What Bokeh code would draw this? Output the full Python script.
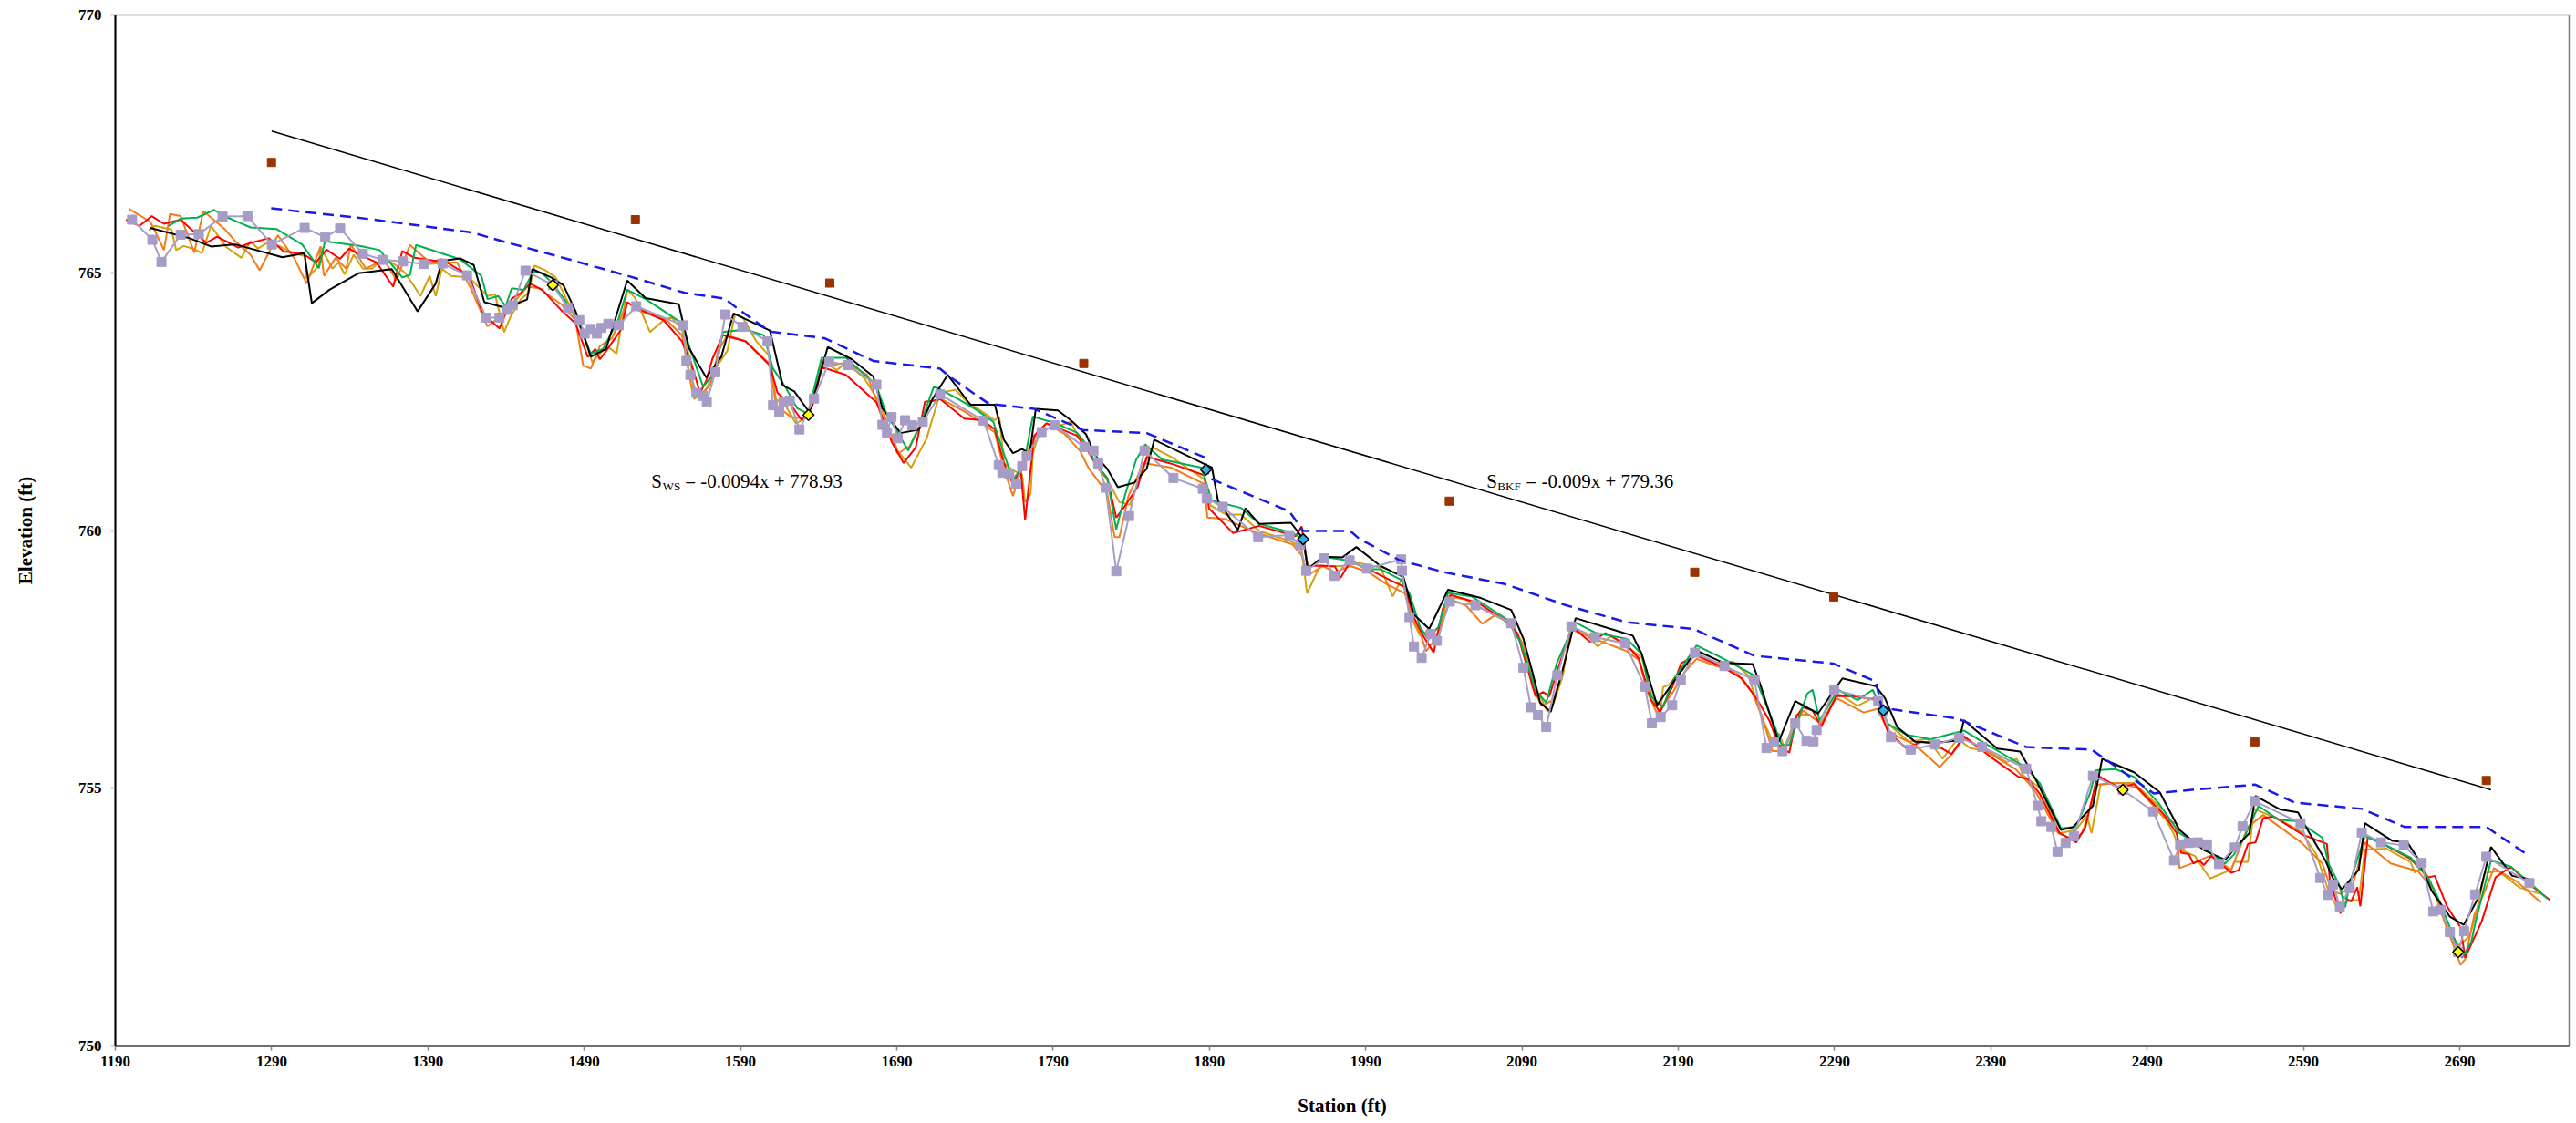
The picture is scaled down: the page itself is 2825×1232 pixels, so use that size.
from bokeh.plotting import figure
from bokeh.models import Range1d, FixedTicker, Label
from bokeh.embed import file_html
from bokeh.resources import INLINE

# ---------------- data (station ft, elevation ft) ----------------
black_pts = [(1212.3, 765.87), (1237.6, 765.67), (1251.2, 765.51), (1266.8, 765.55), (1296.9, 765.30), (1310.9, 765.38),
             (1315.7, 764.41), (1327.0, 764.67), (1345.5, 764.99), (1366.9, 765.07), (1383.4, 764.25), (1395.0, 764.79),
             (1398.9, 765.23), (1410.6, 765.28), (1419.3, 765.15), (1426.1, 764.43), (1439.7, 764.32), (1453.4, 764.48),
             (1456.8, 765.07), (1468.9, 764.91), (1476.7, 764.76), (1484.4, 764.26), (1494.2, 763.37), (1503.9, 763.52),
             (1517.5, 764.85), (1529.2, 764.51), (1550.5, 764.39), (1556.8, 763.55), (1568.0, 762.97), (1577.7, 763.37),
             (1585.5, 764.21), (1608.8, 763.88), (1617.0, 762.82), (1624.4, 762.70), (1634.1, 762.29), (1645.8, 763.56),
             (1661.3, 763.32), (1674.9, 762.99), (1680.8, 762.37), (1692.4, 761.89), (1704.1, 761.96), (1712.8, 762.55),
             (1722.5, 763.02), (1737.1, 762.44), (1752.7, 762.44), (1758.5, 761.76), (1764.3, 761.50), (1770.2, 761.58),
             (1775.0, 761.49), (1778.9, 762.36), (1793.1, 762.33), (1801.3, 762.14), (1811.0, 761.87), (1816.8, 761.46),
             (1824.6, 761.20), (1831.4, 760.84), (1842.1, 760.93), (1849.9, 761.20), (1854.7, 761.76), (1891.6, 761.22),
             (1895.5, 760.58), (1908.2, 760.01), (1913.0, 760.43), (1921.8, 760.13), (1942.2, 760.15), (1950.0, 759.84),
             (1952.9, 759.25), (1962.6, 759.49), (1975.2, 759.48), (1984.0, 759.68), (1999.5, 759.31), (2014.1, 759.10),
             (2020.9, 758.37), (2030.6, 758.09), (2042.7, 758.85), (2063.7, 758.69), (2083.1, 758.46), (2090.9, 757.90),
             (2096.7, 757.25), (2101.6, 756.66), (2108.4, 756.48), (2116.2, 757.31), (2124.3, 758.30), (2160.9, 757.96),
             (2166.7, 757.60), (2176.4, 756.61), (2186.1, 757.03), (2201.7, 757.67), (2219.2, 757.43), (2237.6, 757.41),
             (2242.5, 757.01), (2254.2, 755.90), (2264.8, 756.69), (2279.4, 756.45), (2295.0, 757.13), (2316.4, 756.98),
             (2322.2, 756.75), (2330.0, 756.19), (2341.6, 755.90), (2354.3, 755.88), (2369.8, 755.93), (2372.7, 756.32),
             (2394.1, 755.77), (2408.7, 755.71), (2419.4, 755.13), (2434.9, 754.19), (2442.7, 754.25), (2455.3, 754.66),
             (2461.2, 755.57), (2481.6, 755.31), (2498.1, 754.92), (2510.7, 754.19), (2516.6, 754.04), (2526.3, 753.80),
             (2539.9, 753.61), (2547.7, 753.89), (2555.4, 754.13), (2559.3, 754.85), (2574.9, 754.59), (2586.5, 754.53),
             (2590.4, 754.31), (2604.0, 753.60), (2608.9, 753.25), (2614.7, 753.04), (2625.4, 753.42), (2629.3, 754.32),
             (2646.8, 753.98), (2656.5, 753.95), (2663.3, 753.63), (2672.0, 753.01), (2683.7, 752.51), (2692.5, 752.35),
             (2702.2, 752.89), (2710.0, 753.86), (2723.6, 753.30), (2734.2, 753.24)]

green_pts = [(1224.0, 765.91), (1231.8, 766.05), (1242.4, 766.07), (1253.1, 766.22), (1259.0, 766.11), (1276.5, 765.88),
             (1293.0, 765.85), (1309.5, 765.55), (1320.2, 765.09), (1324.1, 765.61), (1346.4, 765.52), (1359.1, 765.44),
             (1373.6, 764.91), (1378.5, 764.96), (1382.4, 765.54), (1410.6, 765.26), (1424.2, 764.94), (1428.1, 764.49),
             (1434.9, 764.55), (1439.7, 764.35), (1443.6, 764.70), (1451.4, 764.67), (1457.2, 765.02), (1463.1, 764.99),
             (1469.9, 764.79), (1478.6, 764.43), (1486.4, 764.02), (1494.2, 763.43), (1501.9, 763.52), (1511.7, 764.08),
             (1517.5, 764.67), (1529.2, 764.49), (1538.9, 764.30), (1552.5, 764.02), (1556.8, 763.61), (1566.1, 762.79),
             (1573.9, 763.08), (1578.7, 763.85), (1593.3, 763.90), (1604.9, 763.79), (1610.8, 763.14), (1618.6, 762.79),
             (1626.3, 762.37), (1633.1, 762.26), (1641.9, 763.35), (1657.4, 763.35), (1676.9, 762.82), (1682.7, 762.31),
             (1697.3, 761.55), (1706.0, 762.14), (1713.8, 762.80), (1729.4, 762.55), (1741.0, 762.34), (1751.7, 762.11),
             (1758.5, 761.49), (1764.3, 760.99), (1771.1, 761.26), (1777.0, 762.21), (1791.6, 762.08), (1805.2, 761.90),
             (1812.9, 761.61), (1816.8, 761.31), (1824.6, 761.02), (1830.4, 760.02), (1836.3, 760.72), (1843.1, 761.37),
             (1848.9, 761.67), (1859.6, 761.38), (1884.8, 761.22), (1891.6, 760.58), (1910.1, 760.44), (1921.8, 760.13),
             (1942.2, 759.96), (1950.0, 759.84), (1952.9, 759.25), (1962.6, 759.49), (1976.2, 759.43), (1982.0, 759.40),
             (1989.8, 759.25), (1999.5, 759.25), (2012.2, 759.05), (2018.0, 758.78), (2024.8, 758.13), (2029.7, 757.90),
             (2036.5, 758.13), (2042.7, 758.79), (2057.8, 758.72), (2080.2, 758.28), (2088.9, 757.84), (2098.7, 756.90),
             (2105.5, 756.66), (2112.3, 757.43), (2123.9, 758.22), (2137.5, 758.01), (2157.0, 757.90), (2166.7, 757.60),
             (2172.5, 756.78), (2180.3, 756.57), (2186.1, 757.07), (2201.7, 757.77), (2217.2, 757.54), (2238.6, 757.19),
             (2250.3, 756.31), (2256.1, 755.84), (2261.0, 755.84), (2272.6, 756.84), (2275.9, 756.91), (2280.4, 756.31),
             (2292.1, 756.91), (2304.7, 756.71), (2314.4, 756.91), (2324.1, 756.25), (2335.8, 756.04), (2351.3, 755.95),
             (2372.7, 756.12), (2386.3, 755.87), (2411.6, 755.42), (2421.3, 755.10), (2434.9, 754.22), (2444.6, 754.25),
             (2453.4, 754.90), (2457.3, 755.35), (2469.9, 755.37), (2481.6, 755.22), (2497.1, 754.72), (2510.7, 754.13),
             (2526.3, 753.83), (2539.9, 753.54), (2545.7, 753.72), (2551.5, 754.01), (2561.3, 754.66), (2573.9, 754.39),
             (2586.5, 754.36), (2602.1, 754.04), (2606.0, 753.54), (2612.8, 753.13), (2616.7, 752.69), (2619.6, 753.16),
             (2629.3, 754.07), (2642.9, 753.89), (2658.4, 753.66), (2670.1, 753.25), (2675.9, 752.89), (2691.5, 751.71),
             (2697.3, 752.01), (2700.2, 752.42), (2710.0, 753.60), (2722.6, 753.48), (2736.2, 753.13), (2745.9, 752.86)]

red_pts = [(1196.8, 766.03), (1205.5, 765.91), (1213.3, 766.10), (1221.1, 765.95), (1231.8, 766.03), (1240.5, 765.79),
           (1248.3, 765.58), (1255.1, 765.70), (1268.7, 765.49), (1276.5, 765.58), (1288.1, 765.67), (1297.8, 765.41),
           (1309.5, 765.38), (1318.3, 765.20), (1325.1, 765.45), (1333.8, 765.27), (1339.6, 765.47), (1345.5, 765.36),
           (1357.1, 765.20), (1367.8, 764.73), (1373.6, 765.42), (1381.4, 765.29), (1395.0, 765.23), (1398.9, 765.26),
           (1416.4, 764.94), (1425.2, 764.20), (1435.8, 763.92), (1443.6, 764.50), (1449.5, 764.61), (1455.3, 764.79),
           (1463.1, 764.67), (1475.7, 764.26), (1484.4, 764.02), (1492.2, 763.37), (1497.1, 763.52), (1500.0, 763.32),
           (1504.9, 763.52), (1513.6, 763.90), (1517.5, 764.43), (1523.3, 764.32), (1540.8, 764.08), (1552.5, 763.67),
           (1558.3, 763.26), (1564.1, 762.67), (1568.0, 762.90), (1571.9, 763.32), (1578.7, 763.79), (1593.3, 763.67),
           (1608.8, 763.20), (1613.7, 762.67), (1622.4, 762.43), (1629.2, 762.14), (1636.1, 762.43), (1641.9, 763.17),
           (1657.4, 763.02), (1676.9, 762.49), (1686.6, 761.73), (1694.4, 761.31), (1702.1, 761.61), (1708.0, 762.50),
           (1713.8, 762.52), (1717.7, 762.55), (1733.2, 762.17), (1744.9, 762.14), (1752.7, 761.96), (1758.5, 761.31),
           (1764.3, 760.90), (1769.2, 761.20), (1772.1, 760.20), (1775.0, 761.02), (1777.9, 761.84), (1785.7, 762.08),
           (1805.2, 761.84), (1811.0, 761.61), (1816.8, 761.31), (1824.6, 761.02), (1830.4, 760.25), (1836.3, 760.49),
           (1844.0, 760.84), (1849.9, 761.43), (1867.4, 761.28), (1886.8, 761.07), (1889.7, 760.43), (1905.2, 759.95),
           (1921.8, 760.09), (1945.1, 759.89), (1949.0, 760.08), (1952.9, 759.31), (1961.6, 759.32), (1970.4, 759.30),
           (1973.9, 759.08), (1980.1, 759.40), (1991.8, 759.25), (1999.5, 759.13), (2015.1, 758.90), (2020.9, 758.31),
           (2026.7, 757.96), (2033.5, 757.63), (2039.4, 758.49), (2044.2, 758.75), (2061.7, 758.60), (2079.2, 758.25),
           (2087.0, 758.01), (2098.7, 756.78), (2103.5, 756.87), (2107.4, 756.78), (2114.2, 757.43), (2122.0, 758.13),
           (2133.6, 757.84), (2143.4, 758.01), (2157.0, 757.78), (2164.7, 757.52), (2172.5, 756.72), (2178.4, 756.48),
           (2186.1, 756.96), (2191.9, 757.43), (2201.7, 757.57), (2217.2, 757.37), (2230.8, 757.13), (2240.5, 756.72),
           (2248.3, 756.31), (2254.2, 755.84), (2261.0, 755.69), (2265.8, 756.40), (2269.7, 756.57), (2275.9, 756.51),
           (2281.4, 756.19), (2291.1, 756.79), (2302.7, 756.78), (2316.4, 756.72), (2324.1, 756.10), (2335.8, 755.78),
           (2345.5, 755.90), (2353.3, 755.87), (2364.9, 755.66), (2372.7, 756.01), (2390.2, 755.60), (2407.7, 755.22),
           (2413.5, 755.18), (2421.3, 754.89), (2433.9, 754.13), (2444.6, 753.95), (2450.5, 754.25), (2458.2, 755.25),
           (2471.8, 755.01), (2481.6, 755.08), (2501.0, 754.48), (2508.8, 754.13), (2511.7, 753.75), (2516.6, 753.72),
           (2519.5, 753.54), (2523.4, 753.60), (2526.3, 753.51), (2531.1, 753.69), (2543.8, 753.36), (2548.6, 753.41),
           (2554.5, 753.92), (2559.3, 753.95), (2564.2, 754.42), (2571.0, 754.45), (2589.4, 754.10), (2605.0, 753.92),
           (2606.9, 753.19), (2610.8, 752.83), (2613.7, 752.57), (2615.7, 752.89), (2620.5, 752.80), (2624.4, 753.08),
           (2626.4, 752.71), (2631.2, 754.07), (2642.9, 753.89), (2658.4, 753.63), (2670.1, 753.27), (2674.0, 753.30),
           (2681.8, 752.71), (2690.5, 752.30), (2693.4, 751.71), (2704.1, 752.42), (2712.9, 753.27), (2722.6, 753.48),
           (2736.2, 753.10), (2747.8, 752.83)]

orange_pts = [(1198.7, 766.24), (1212.3, 765.99), (1216.2, 765.76), (1221.1, 765.44), (1225.0, 766.14), (1231.8, 766.10),
              (1240.5, 765.39), (1246.3, 766.20), (1259.9, 765.85), (1266.8, 765.61), (1276.5, 765.35), (1282.3, 765.05),
              (1294.0, 765.73), (1304.7, 765.27), (1312.4, 764.79), (1321.2, 765.50), (1323.5, 764.94), (1330.9, 765.29),
              (1337.7, 765.08), (1340.6, 765.55), (1350.3, 765.08), (1362.0, 765.26), (1369.8, 764.85), (1378.5, 765.54),
              (1391.1, 765.20), (1408.6, 765.20), (1417.4, 764.70), (1428.1, 763.96), (1435.8, 764.14), (1444.6, 764.41),
              (1453.4, 764.73), (1461.1, 764.70), (1475.7, 764.38), (1484.4, 764.08), (1489.3, 763.20), (1494.2, 763.14),
              (1500.0, 763.58), (1507.8, 763.73), (1517.5, 764.43), (1525.3, 764.26), (1542.8, 764.08), (1552.5, 763.79),
              (1559.3, 762.67), (1564.1, 762.62), (1570.9, 762.84), (1575.8, 763.49), (1581.6, 763.79), (1593.3, 763.67),
              (1608.8, 763.23), (1612.7, 762.43), (1622.4, 762.20), (1630.2, 762.17), (1638.0, 762.55), (1641.9, 763.26),
              (1647.7, 763.20), (1657.4, 763.26), (1671.0, 763.02), (1678.8, 762.37), (1690.5, 761.49), (1698.3, 761.64),
              (1706.0, 762.08), (1711.9, 762.50), (1717.7, 762.56), (1733.2, 762.31), (1744.9, 762.08), (1752.7, 761.90),
              (1758.5, 761.20), (1764.3, 760.67), (1769.2, 761.14), (1774.1, 761.55), (1777.9, 761.79), (1785.7, 762.08),
              (1797.4, 761.87), (1807.1, 761.55), (1812.9, 761.20), (1818.8, 760.96), (1824.6, 760.72), (1829.4, 759.87),
              (1832.4, 759.87), (1838.2, 760.67), (1847.9, 761.31), (1865.4, 761.22), (1886.8, 760.90), (1888.7, 760.25),
              (1900.4, 760.22), (1919.8, 759.96), (1943.2, 759.73), (1949.0, 759.52), (1952.9, 759.13), (1962.6, 759.31),
              (1970.4, 759.19), (1980.1, 759.31), (1991.8, 759.19), (2003.4, 758.96), (2015.1, 758.78), (2019.0, 758.37),
              (2024.8, 758.02), (2028.7, 757.66), (2034.5, 757.90), (2044.2, 758.66), (2054.0, 758.55), (2064.6, 758.19),
              (2073.4, 758.37), (2083.1, 758.19), (2090.9, 757.78), (2096.7, 756.96), (2102.5, 756.60), (2110.3, 756.72),
              (2116.2, 757.31), (2122.0, 758.07), (2141.4, 757.84), (2157.0, 757.66), (2164.7, 757.49), (2170.6, 756.84),
              (2176.4, 756.45), (2186.1, 756.84), (2193.9, 757.25), (2201.7, 757.51), (2211.4, 757.40), (2226.9, 757.25),
              (2237.5, 756.85), (2244.4, 756.31), (2250.3, 755.72), (2257.1, 755.72), (2264.8, 756.19), (2269.7, 756.51),
              (2281.4, 756.25), (2291.1, 756.75), (2308.6, 756.47), (2317.3, 756.54), (2324.1, 756.13), (2330.0, 756.01),
              (2341.6, 755.84), (2357.2, 755.41), (2364.9, 755.66), (2372.7, 755.97), (2390.2, 755.66), (2405.8, 755.37),
              (2413.5, 755.12), (2419.4, 754.89), (2433.0, 754.13), (2442.7, 754.01), (2448.5, 754.13), (2456.3, 754.90),
              (2458.2, 755.07), (2473.8, 755.10), (2483.5, 755.01), (2501.0, 754.42), (2508.8, 754.31), (2510.7, 753.45),
              (2518.5, 753.54), (2530.2, 753.69), (2543.8, 753.42), (2554.5, 754.25), (2564.2, 754.48), (2588.5, 753.95),
              (2602.1, 753.54), (2607.9, 753.01), (2613.7, 752.95), (2621.5, 753.13), (2629.3, 753.95), (2645.8, 753.54),
              (2663.3, 753.39), (2674.0, 753.01), (2681.8, 752.30), (2690.5, 751.57), (2693.4, 751.68), (2699.3, 752.54),
              (2706.1, 753.01), (2711.9, 753.45), (2726.5, 753.19), (2742.0, 752.78)]

gold_pts = [(1211.4, 765.82), (1215.2, 765.91), (1225.9, 765.84), (1228.9, 765.44), (1233.7, 765.52), (1239.5, 765.47),
            (1245.4, 765.38), (1251.2, 765.91), (1260.9, 765.50), (1270.6, 765.29), (1276.5, 765.61), (1281.3, 765.47),
            (1287.2, 765.58), (1294.9, 765.52), (1303.7, 765.38), (1311.4, 765.32), (1312.4, 764.88), (1320.2, 765.14),
            (1321.2, 765.51), (1328.9, 765.08), (1332.8, 765.20), (1336.7, 764.97), (1342.5, 765.35), (1348.4, 765.08),
            (1354.2, 765.08), (1362.0, 765.29), (1369.8, 765.14), (1375.6, 764.99), (1385.3, 764.55), (1391.1, 764.94),
            (1395.0, 764.55), (1398.9, 765.08), (1404.7, 764.94), (1416.4, 764.91), (1428.1, 764.55), (1432.9, 764.58),
            (1438.8, 763.85), (1442.7, 764.14), (1449.5, 764.49), (1454.3, 764.61), (1458.2, 765.14), (1465.0, 765.05),
            (1471.8, 764.91), (1479.6, 764.43), (1486.4, 764.08), (1492.2, 763.58), (1495.1, 763.26), (1501.9, 763.49),
            (1505.8, 763.55), (1510.7, 763.43), (1517.5, 764.67), (1522.4, 764.52), (1527.2, 764.20), (1532.1, 763.85),
            (1540.8, 764.08), (1545.7, 764.14), (1552.5, 763.90), (1558.3, 763.26), (1560.3, 762.55), (1564.1, 762.64),
            (1568.0, 762.73), (1573.9, 763.14), (1581.6, 763.49), (1586.5, 764.20), (1591.3, 764.14), (1600.1, 763.67),
            (1608.8, 763.37), (1612.7, 762.55), (1618.6, 762.43), (1625.4, 762.08), (1633.1, 762.20), (1641.9, 763.32),
            (1651.6, 763.11), (1657.4, 763.26), (1669.1, 762.96), (1678.8, 762.49), (1690.5, 761.55), (1699.2, 761.22),
            (1709.0, 761.78), (1717.7, 762.67), (1727.4, 762.73), (1735.2, 762.49), (1746.8, 762.26), (1752.7, 762.14),
            (1755.6, 762.21), (1758.5, 761.31), (1764.3, 761.17), (1770.2, 761.08), (1772.1, 760.55), (1775.6, 760.71),
            (1777.0, 761.49), (1781.8, 761.96), (1791.6, 762.01), (1801.3, 762.11), (1807.1, 761.76), (1812.9, 761.52),
            (1818.8, 761.20), (1824.6, 760.99), (1832.4, 760.55), (1839.2, 760.50), (1847.9, 761.25), (1853.7, 761.61),
            (1865.4, 761.43), (1886.8, 760.99), (1890.7, 760.49), (1900.4, 760.31), (1910.1, 760.31), (1921.8, 759.99),
            (1943.2, 759.78), (1949.0, 759.61), (1952.5, 758.78), (1960.6, 759.31), (1974.3, 759.31), (1985.9, 759.37),
            (1999.5, 759.28), (2007.3, 758.72), (2013.1, 759.07), (2019.0, 758.31), (2024.8, 757.96), (2030.6, 758.07),
            (2036.5, 757.90), (2042.3, 758.72), (2054.0, 758.66), (2071.4, 758.37), (2083.1, 758.19), (2090.9, 757.78),
            (2098.7, 756.96), (2106.4, 756.48), (2110.3, 756.66), (2116.2, 757.19), (2121.0, 758.13), (2131.7, 757.96),
            (2138.5, 757.75), (2147.2, 757.96), (2157.0, 757.75), (2166.7, 757.54), (2172.5, 756.84), (2178.4, 756.43),
            (2180.3, 756.96), (2184.2, 757.01), (2191.9, 757.31), (2201.7, 757.63), (2213.3, 757.43), (2225.0, 757.46),
            (2234.7, 757.19), (2244.4, 756.31), (2251.2, 755.84), (2254.2, 756.07), (2258.0, 755.78), (2265.8, 756.43),
            (2273.6, 756.43), (2281.4, 756.25), (2292.1, 756.84), (2304.7, 756.60), (2316.4, 756.78), (2324.1, 756.25),
            (2337.7, 755.90), (2349.4, 755.96), (2359.1, 755.57), (2368.8, 755.96), (2376.6, 755.78), (2388.3, 755.72),
            (2399.9, 755.51), (2406.7, 755.57), (2410.6, 755.25), (2421.3, 755.01), (2433.9, 754.13), (2444.6, 754.19),
            (2451.4, 754.48), (2454.4, 754.13), (2460.2, 755.07), (2466.0, 755.10), (2481.6, 755.10), (2497.1, 754.66),
            (2506.8, 754.13), (2510.7, 753.81), (2520.4, 753.69), (2530.2, 753.25), (2543.8, 753.42), (2545.7, 753.57),
            (2554.5, 753.57), (2558.3, 754.60), (2572.9, 754.42), (2588.5, 754.16), (2598.2, 753.72), (2606.0, 753.01),
            (2611.8, 752.66), (2619.6, 752.83), (2625.4, 752.83), (2629.3, 753.81), (2642.9, 753.83), (2658.4, 753.57),
            (2661.4, 753.36), (2666.2, 753.48), (2674.0, 752.95), (2681.8, 752.27), (2689.5, 751.95), (2696.3, 752.13),
            (2701.2, 752.66), (2706.1, 753.36), (2714.8, 753.39), (2728.4, 753.07), (2742.0, 752.95)]

lavender_pts = [(1200.7, 766.03), (1213.7, 765.64), (1219.5, 765.21), (1231.8, 765.74), (1243.4, 765.75), (1258.6, 766.09),
                (1274.5, 766.10), (1290.1, 765.55), (1311.1, 765.87), (1324.3, 765.69), (1333.8, 765.86), (1348.4, 765.37),
                (1361.0, 765.25), (1374.0, 765.22), (1387.3, 765.17), (1399.3, 765.18), (1415.0, 764.95), (1427.3, 764.13),
                (1435.8, 764.13), (1440.7, 764.28), (1444.2, 764.37), (1452.4, 765.04), (1469.9, 764.76), (1479.6, 764.32),
                (1486.8, 764.08), (1490.3, 763.82), (1494.2, 763.91), (1498.1, 763.82), (1501.0, 763.93), (1505.4, 764.01),
                (1512.0, 763.98), (1523.3, 764.35), (1553.1, 763.98), (1555.4, 763.29), (1557.9, 763.02), (1561.8, 762.67),
                (1566.1, 762.61), (1568.4, 762.50), (1573.9, 763.07), (1580.3, 764.19), (1591.3, 763.95), (1607.3, 763.67),
                (1610.8, 762.43), (1614.7, 762.30), (1617.6, 762.50), (1621.5, 762.52), (1627.7, 761.96), (1637.0, 762.56),
                (1646.7, 763.27), (1658.8, 763.21), (1676.9, 762.83), (1680.8, 762.05), (1683.7, 761.90), (1686.6, 762.20),
                (1690.5, 761.79), (1695.3, 762.14), (1699.8, 762.04), (1706.6, 762.11), (1717.7, 762.64), (1745.5, 762.13),
                (1755.2, 761.27), (1757.5, 761.12), (1762.0, 761.10), (1766.3, 760.90), (1770.2, 761.25), (1773.1, 761.44),
                (1782.6, 761.91), (1791.0, 762.04), (1810.0, 761.62), (1815.8, 761.55), (1818.8, 761.30), (1823.6, 760.83),
                (1830.4, 759.21), (1838.6, 760.28), (1848.5, 761.55), (1867.0, 761.02), (1885.8, 760.81), (1888.3, 760.62),
                (1898.5, 760.46), (1921.2, 759.87), (1941.2, 759.91), (1948.0, 759.72), (1951.9, 759.22), (1963.6, 759.46),
                (1970.0, 759.12), (1979.7, 759.42), (1990.8, 759.26), (2012.7, 759.44), (2013.2, 759.22), (2018.0, 758.32),
                (2020.9, 757.75), (2025.8, 757.53), (2031.6, 757.99), (2035.5, 757.86), (2043.8, 758.62), (2060.2, 758.55),
                (2083.1, 758.20), (2090.9, 757.34), (2095.7, 756.57), (2100.2, 756.42), (2105.5, 756.19), (2112.6, 757.19),
                (2121.6, 758.14), (2136.6, 757.93), (2156.0, 757.81), (2168.6, 756.97), (2173.1, 756.26), (2178.7, 756.38),
                (2186.1, 756.61), (2191.6, 757.10), (2200.7, 757.63), (2219.5, 757.37), (2238.8, 757.10), (2246.4, 755.78),
                (2251.2, 755.90), (2256.7, 755.72), (2264.8, 756.26), (2272.0, 755.92), (2276.5, 755.91), (2278.5, 756.13),
                (2289.7, 756.91), (2317.9, 756.69), (2321.2, 756.51), (2326.1, 755.99), (2338.7, 755.75), (2354.3, 755.85),
                (2369.8, 755.98), (2384.4, 755.80), (2412.6, 755.38), (2419.9, 754.66), (2422.3, 754.36), (2428.7, 754.25),
                (2432.6, 753.77), (2437.8, 753.94), (2443.1, 754.07), (2455.3, 755.24), (2474.4, 754.97), (2493.8, 754.55),
                (2507.2, 753.60), (2511.1, 753.91), (2516.6, 753.94), (2522.4, 753.95), (2528.2, 753.91), (2536.0, 753.53),
                (2546.1, 753.85), (2551.0, 754.26), (2558.9, 754.75), (2588.1, 754.32), (2600.7, 753.26), (2605.6, 752.93),
                (2608.9, 753.13), (2613.3, 752.70), (2619.6, 753.06), (2627.3, 754.14), (2639.6, 753.95), (2654.2, 753.89),
                (2665.6, 753.55), (2673.0, 752.61), (2677.9, 752.64), (2683.7, 752.21), (2689.0, 751.82), (2692.8, 752.23),
                (2699.8, 752.94), (2707.0, 753.67), (2734.6, 753.16)]

bankfull_pts = [(1289.7, 766.25), (1350.3, 766.05), (1418.4, 765.78), (1437.8, 765.61), (1476.7, 765.29), (1515.5, 764.96),
                (1554.4, 764.61), (1579.7, 764.50), (1587.5, 764.32), (1608.8, 763.86), (1643.8, 763.73), (1674.9, 763.29),
                (1717.7, 763.14), (1723.5, 762.99), (1748.8, 762.46), (1777.9, 762.36), (1809.0, 761.95), (1849.9, 761.89),
                (1886.8, 761.42), (1889.7, 761.02), (1941.2, 760.37), (1950.0, 759.99), (1980.1, 759.99), (1985.9, 759.84),
                (2011.2, 759.43), (2040.3, 759.19), (2079.2, 758.96), (2118.1, 758.55), (2157.0, 758.22), (2199.7, 758.09),
                (2238.6, 757.57), (2289.1, 757.42), (2316.4, 757.07), (2320.2, 756.56), (2368.8, 756.35), (2412.6, 755.80),
                (2454.4, 755.75), (2494.2, 754.90), (2522.4, 754.98), (2559.3, 755.07), (2584.6, 754.72), (2627.3, 754.60),
                (2654.6, 754.25), (2707.0, 754.25), (2734.2, 753.69)]

bkf_station = [1289.9, 1522.7, 1647.1, 1809.6, 2043.5, 2200.5, 2289.5, 2558.9, 2707.0]
bkf_elev = [767.14, 766.03, 764.80, 763.24, 760.57, 759.19, 758.71, 755.90, 755.15]

trend_station = [1290.0, 2710.0]
trend_elev = [767.75, 754.97]

yellow_station = [1469.9, 1633.5, 2474.4, 2689.0]
yellow_elev = [764.76, 762.24, 754.97, 751.82]

cyan_station = [1887.8, 1950.0, 2321.2]
cyan_elev = [761.18, 759.83, 756.51]

x_ticks = [1190, 1290, 1390, 1490, 1590, 1690, 1790, 1890, 1990, 2090, 2190, 2290, 2390, 2490, 2590, 2690]
y_ticks = [750, 755, 760, 765, 770]


def xs(pts):
    return [a for a, b in pts]


def ys(pts):
    return [b for a, b in pts]


# ---------------- figure ----------------
p = figure(width=2820, height=1231, x_range=Range1d(1190, 2760), y_range=Range1d(750, 770),
           output_backend="svg", toolbar_location=None,
           min_border_left=126, min_border_right=3, min_border_top=16, min_border_bottom=84)
p.background_fill_color = "white"
p.border_fill_color = "white"
p.outline_line_color = "#808080"
p.outline_line_width = 1.5

p.xgrid.grid_line_color = None
p.ygrid.grid_line_color = "#808080"
p.ygrid.grid_line_width = 1
p.xaxis.ticker = FixedTicker(ticks=x_ticks)
p.yaxis.ticker = FixedTicker(ticks=y_ticks)

for ax in (p.xaxis[0], p.yaxis[0]):
    ax.axis_line_color = "black"
    ax.axis_line_width = 2
    ax.major_tick_line_color = "#808080"
    ax.major_tick_line_width = 1.5
    ax.major_tick_in = 0
    ax.major_tick_out = 5
    ax.minor_tick_line_color = None
    ax.major_label_text_font = "Liberation Serif"
    ax.major_label_text_font_style = "bold"
    ax.major_label_text_font_size = "17px"
    ax.major_label_text_color = "black"
    ax.axis_label_text_font = "Liberation Serif"
    ax.axis_label_text_font_style = "bold"
    ax.axis_label_text_font_size = "21px"
    ax.axis_label_text_color = "black"

p.xaxis.axis_label = "Station (ft)"
p.yaxis.axis_label = "Elevation (ft)"
p.xaxis.major_label_standoff = 6
p.xaxis.axis_label_standoff = 28
p.yaxis.major_label_standoff = 10
p.yaxis.axis_label_standoff = 43

# profile lines
p.line(xs(gold_pts), ys(gold_pts), line_color="#d4a00e", line_width=2)
p.line(xs(orange_pts), ys(orange_pts), line_color="#f07c1b", line_width=2)
p.line(xs(red_pts), ys(red_pts), line_color="#ff0000", line_width=2)
p.line(xs(green_pts), ys(green_pts), line_color="#00b050", line_width=2)
p.line(xs(black_pts), ys(black_pts), line_color="#000000", line_width=2)
p.line(xs(lavender_pts), ys(lavender_pts), line_color="#a79cc6", line_width=2)
p.scatter(xs(lavender_pts), ys(lavender_pts), marker="square", size=10,
          fill_color="#a79cc6", line_color="#a79cc6")

# bankfull (dashed)
p.line(xs(bankfull_pts), ys(bankfull_pts), line_color="#1a1ae6", line_width=2.5, line_dash="12 7")

# trend line
p.line(trend_station, trend_elev, line_color="black", line_width=1.5)

# bankfull indicator points
p.scatter(bkf_station, bkf_elev, marker="square", size=9, fill_color="#993300", line_color="#993300")

# diamonds
p.scatter(yellow_station, yellow_elev, marker="square", angle=0.785398, size=8.5,
          fill_color="#ffff00", line_color="black", line_width=1.5)
p.scatter(cyan_station, cyan_elev, marker="square", angle=0.785398, size=8.5,
          fill_color="#2fb2e8", line_color="black", line_width=1.5)


# equations
def add_eq(x, y, sub, sub_off, rest, rest_off):
    p.add_layout(Label(x=x, y=y, text="S", text_font="Liberation Serif", text_font_size="21px",
                       text_baseline="alphabetic", text_color="black"))
    p.add_layout(Label(x=x, y=y - 0.088, x_offset=sub_off, text=sub, text_font="Liberation Serif",
                       text_font_size="13px", text_baseline="alphabetic", text_color="black"))
    p.add_layout(Label(x=x, y=y, x_offset=rest_off, text=rest, text_font="Liberation Serif",
                       text_font_size="21px", text_baseline="alphabetic", text_color="black"))


add_eq(1532.9, 760.95, "WS", 12.5, "= -0.0094x + 778.93", 37)
add_eq(2067.4, 760.95, "BKF", 12, "= -0.009x + 779.36", 43)

open("out.html", "w").write(file_html(p, INLINE))
